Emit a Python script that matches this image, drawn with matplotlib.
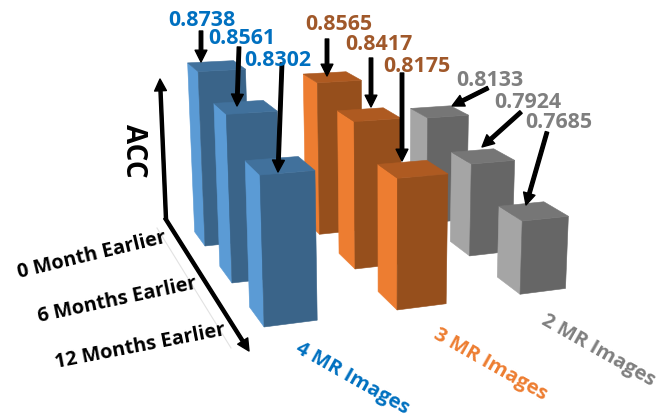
import matplotlib
matplotlib.use('Agg')
import matplotlib.pyplot as plt

plt.rcParams['font.family'] = ['Open Sans', 'DejaVu Sans']
plt.rcParams['font.weight'] = 'bold'

series_names = ['4 MR Images', '3 MR Images', '2 MR Images']
row_names = ['0 Month Earlier', '6 Months Earlier', '12 Months Earlier']

acc_4mr = [0.8738, 0.8561, 0.8302]
acc_3mr = [0.8565, 0.8417, 0.8175]
acc_2mr = [0.8133, 0.7924, 0.7685]
acc_all = [acc_4mr, acc_3mr, acc_2mr]

BASE = 0.70
BAR_W = 0.39
BAR_D = 0.43

# light side, dark front, top
face_colors = [('#5B9BD5', '#3A6489', '#41719C'),
               ('#ED7D31', '#964F1C', '#AE5A21'),
               ('#A5A5A5', '#666666', '#767676')]
value_colors = ['#0070C0', '#A0582A', '#7F7F7F']
name_colors = ['#0070C0', '#ED7D31', '#7F7F7F']


# perspective camera: series index, row index, accuracy -> pixels
def project(u, v, acc):
    z = acc - BASE
    w = 1 + 0.0342 * u - 0.0795 * v - 0.2122 * z
    x = (205 + 125.4 * u + 8.55 * v - 81.7 * z) / w
    y = (246 - 3.7 * u + 14.5 * v - 1018.6 * z) / w
    return x, y


def draw_bar(ax, u, v, acc, colors):
    light, dark, top = colors
    left = [project(u, v - BAR_D, BASE), project(u, v, BASE),
            project(u, v, acc), project(u, v - BAR_D, acc)]
    front = [project(u, v, BASE), project(u + BAR_W, v, BASE),
             project(u + BAR_W, v, acc), project(u, v, acc)]
    cap = [project(u, v - BAR_D, acc), project(u + BAR_W, v - BAR_D, acc),
           project(u + BAR_W, v, acc), project(u, v, acc)]
    for poly, c in [(left, light), (front, dark), (cap, top)]:
        ax.fill(*zip(*poly), color=c, lw=0.4)


fig = plt.figure(figsize=(6.72, 4.18), dpi=100)
ax = fig.add_axes([0, 0, 1, 1])
ax.set_xlim(0, 672)
ax.set_ylim(418, 0)
ax.axis('off')

# back rows first so the nearer bars cover them
for v in range(3):
    for u in range(3):
        draw_bar(ax, u, v, acc_all[u][v], face_colors[u])

# axes
ax.plot([157, 231], [228, 348], color='#E2E2E2', lw=0.8)
axis_arrow = dict(width=2.2, headwidth=8.5, headlength=8.5, color='k', shrink=0)
ax.annotate('', xy=(160, 79), xytext=(166, 219), arrowprops=axis_arrow)
ax.annotate('', xy=(249, 351), xytext=(165, 218), arrowprops=axis_arrow)

# value labels and their arrows
label_xy = [[(202, 20), (242, 38), (278, 61)],
            [(339, 25), (379, 45), (417, 66)],
            [(490, 81), (528, 103), (559, 122)]]
arrow_from = [[(201, 31), (239, 47), (282, 63)],
              [(327, 39), (371, 58), (402, 73)],
              [(488, 88), (521, 112), (547, 132)]]
arrow_to = [[(201, 62), (237, 106), (278, 172)],
            [(327, 76), (371, 107), (402, 161)],
            [(452, 106), (482, 147), (526, 205)]]
value_arrow = dict(width=2.5, headwidth=8.5, headlength=8.5, color='k', shrink=0)
for u in range(3):
    for v in range(3):
        ax.annotate('', xy=arrow_to[u][v], xytext=arrow_from[u][v], arrowprops=value_arrow)
        ax.text(*label_xy[u][v], f'{acc_all[u][v]:.4f}', color=value_colors[u],
                fontsize=15.4, ha='center', va='center')

# axis names
ax.text(133, 151, 'ACC', rotation=-90, fontsize=20, ha='center', va='center',
        rotation_mode='anchor')

row_xy = [(92, 255), (117, 300), (140, 347)]
row_rot = [13.5, 12, 11]
for name, xy, rot in zip(row_names, row_xy, row_rot):
    ax.text(*xy, name, rotation=rot, fontsize=14.3, ha='center', va='center',
            rotation_mode='anchor')

series_xy = [(352, 379), (490, 365), (598, 351)]
for name, xy, c in zip(series_names, series_xy, name_colors):
    ax.text(*xy, name, rotation=-29.5, color=c, fontsize=14.6, ha='center', va='center',
            rotation_mode='anchor')

fig.savefig('out.png', dpi=100)
